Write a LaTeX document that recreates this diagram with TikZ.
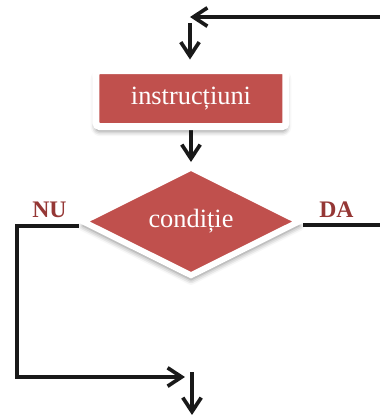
\documentclass[tikz,border=0pt]{standalone}
\usepackage{fontspec}
\setmainfont{Liberation Serif}
\usepackage{tikz}
\usetikzlibrary{arrows.meta,positioning,shapes.geometric,shadows.blur,backgrounds}
\definecolor{boxred}{HTML}{C0504D}
\definecolor{lblred}{HTML}{953735}

\begin{document}
\begin{tikzpicture}[
    flow/.style={line width=2.1pt, black!90, -{Straight Barb[length=8pt,width=10.5pt]}},
    link/.style={line width=2.1pt, black!90},
    blk/.style={fill=boxred, draw=white, text=white,
      font=\fontsize{15}{18}\selectfont, inner sep=0pt,
      blur shadow={shadow xshift=0pt, shadow yshift=-2.5pt,
        shadow blur radius=3pt, shadow opacity=50}},
    lbl/.style={font=\fontsize{13.5}{16}\selectfont\bfseries, text=lblred},
  ]
  \useasboundingbox (0,0) rectangle (7.6,-8.3);

  % Blocks
  \node[blk, rectangle, rounded corners=2pt, line width=0.14cm,
    minimum width=3.8cm, minimum height=1.12cm] (instr) at (3.82,-1.97) {instrucțiuni};
  \node[blk, diamond, line width=0.12cm,
    minimum width=4.37cm, minimum height=2.2cm] (cond) at (3.82,-4.43) {condiție};

  % Branch labels
  \node[lbl] (nu) at (0.99,-4.19) {NU};
  \node[lbl] (da) at (6.73,-4.19) {DA};

  % Free ends
  \coordinate (loopin) at (7.6,-0.34);
  \coordinate (looptip) at (3.8,-0.34);
  \coordinate (drop) at (3.8,-0.46);
  \coordinate (nuside) at (0.34,-7.54);
  \coordinate (merge) at (3.70,-7.54);
  \coordinate (daout) at (7.6,-4.5);
  \coordinate (next) at (3.84,-7.44);
  \coordinate (exit) at (3.84,-8.3);

  % Connectors
  \begin{pgfonlayer}{background}
    \draw[flow] (loopin) -- (looptip);
    \draw[flow, shorten >=0.15cm] (drop) -- (drop |- instr.north);
    \draw[flow, shorten >=0.03cm] (instr.south) -- (cond.north);
    \draw[flow] ([yshift=-0.09cm]cond.west) -| (nuside) -- (merge);
    \draw[link] ([yshift=-0.07cm]cond.east) -- (daout);
    \draw[flow] (next) -- (exit);
  \end{pgfonlayer}
\end{tikzpicture}
\end{document}
